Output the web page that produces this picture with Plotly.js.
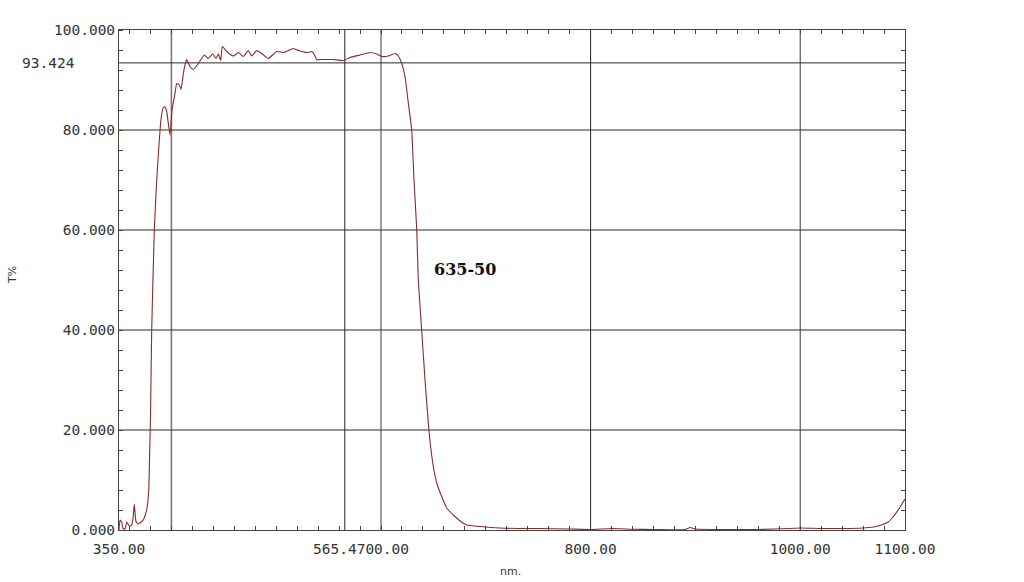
<!DOCTYPE html>
<html>
<head>
<meta charset="utf-8">
<script src="https://cdn.plot.ly/plotly-3.0.1.min.js"></script>
<style>html,body{margin:0;padding:0;background:#fff;}#chart{width:1024px;height:582px;}</style>
</head>
<body>
<div id="chart"></div>
<script>
// Wavelength (nm) and transmittance (%)
const wavelength = [350, 351, 352.5, 354, 356, 357.3, 359.8, 362.1, 363.6, 364.6, 366.2, 368.4, 373.2, 376.4, 378.4, 379.3, 380, 381.2, 383.7, 386, 387.5, 390, 392.3, 394, 395.5, 398.7, 400.6, 403.4, 405.1, 407.5, 409.2, 411.4, 413, 414.6, 417.7, 420.9, 425.7, 431.4, 435.2, 439.4, 442.6, 444.8, 447, 448.6, 452.8, 459.1, 463.8, 468.6, 473.4, 476.6, 481.4, 486.2, 492.5, 500.5, 506.8, 516.3, 522.7, 530.6, 533.9, 536.1, 538.6, 544.9, 554.5, 564, 570.4, 580, 589.5, 595.9, 600.7, 607, 613.4, 616.5, 619.8, 622.9, 626.1, 629.3, 631.5, 634.1, 635.6, 638.8, 642, 645.8, 649.9, 653.5, 657.9, 663, 670.6, 676, 681.8, 694.5, 713.5, 732.6, 750, 780, 800, 820, 840, 860, 890, 895, 900, 930, 960, 990, 1000, 1020, 1040, 1060, 1070, 1076, 1084, 1089, 1095, 1100];
const transmittance = [0, 2, 1.6, 0.2, 0.3, 1.6, 0.8, 1, 2.7, 5.2, 1.7, 1.2, 2, 4, 8, 16, 22, 40, 60, 70, 75, 82, 84.5, 84.6, 83.7, 79, 84, 87.3, 89.3, 89, 88.1, 91.3, 93, 94.1, 92.7, 92.1, 93.3, 95, 94.3, 95.2, 94.3, 95.2, 93.9, 96.7, 95.7, 94.8, 95.5, 94.7, 95.9, 94.8, 95.9, 95.3, 94.3, 95.7, 95.5, 96.3, 95.8, 95.5, 95.7, 95.2, 94.1, 94.1, 94.1, 93.9, 94.5, 95, 95.5, 95.2, 94.7, 94.8, 95.3, 94.8, 93.3, 90.7, 85.3, 80, 70, 60, 50, 40, 30, 19.7, 12.7, 9.2, 6.7, 4.3, 2.7, 1.7, 1, 0.7, 0.4, 0.3, 0.3, 0.2, 0.1, 0.3, 0.15, 0.1, 0.1, 0.5, 0.2, 0.1, 0.1, 0.3, 0.4, 0.3, 0.3, 0.4, 0.6, 0.9, 1.6, 2.7, 4.5, 6.2];

// Axis labels
const xTickVals = [350, 800, 1000, 1100];
const xTickText = ["350.00", "800.00", "1000.00", "1100.00"];
const xOverlapLabel = "565.4700.00";
const xOverlapAt = 565.47;
const yTickVals = [0, 20, 40, 60, 80, 100];
const yTickText = ["0.000", "20.000", "40.000", "60.000", "80.000", "100.000"];
const markerValue = 93.424;
const markerLabel = "93.424";

// Reference lines
const gridX = [400, 565.47, 600, 800, 1000];
const gridXColors = ["#7a7a7a", "#222222", "#3a3a3a", "#222222", "#333333"];
const gridXWidths = [1.6, 1, 1, 1, 1];
const gridY = [20, 40, 60, 80, 93.424];

const seriesName = "635-50";

const lineColor = "#8b2a2a";
const labelFont = {family: "DejaVu Sans Mono", size: 14.5, color: "#333333"};

const shapes = [];
gridX.forEach((v, i) => shapes.push({type: "line", xref: "x", yref: "paper", x0: v, x1: v, y0: 0, y1: 1, line: {color: gridXColors[i], width: gridXWidths[i]}, layer: "below"}));
gridY.forEach(v => shapes.push({type: "line", xref: "paper", yref: "y", x0: 0, x1: 1, y0: v, y1: v, line: {color: "#2a2a2a", width: 1}, layer: "below"}));

const annotations = [
  {xref: "x", yref: "paper", x: xOverlapAt, y: 0, xanchor: "left", yanchor: "top", xshift: -33.5, yshift: -9, text: xOverlapLabel, showarrow: false, font: labelFont},
  {xref: "paper", yref: "y", x: -42/786, y: markerValue, xanchor: "right", yanchor: "middle", text: markerLabel, showarrow: false, font: labelFont},
  {xref: "x", yref: "y", x: 648.6, y: 52.2, xanchor: "left", yanchor: "middle", text: "<b>" + seriesName + "</b>", showarrow: false, font: {family: "DejaVu Serif", size: 16, color: "#111"}},
  {xref: "paper", yref: "paper", x: -107/786, y: 0.51, xanchor: "center", yanchor: "middle", textangle: -90, text: "T%", showarrow: false, font: {family: "DejaVu Sans", size: 11, color: "#333"}},
  {xref: "paper", yref: "paper", x: (510-119)/786, y: -41/500, xanchor: "center", yanchor: "middle", text: "nm.", showarrow: false, font: {family: "DejaVu Sans", size: 11, color: "#333"}}
];

const data = [
  {x: wavelength, y: transmittance, type: "scatter", mode: "lines", line: {color: lineColor, width: 1.1, shape: "spline", smoothing: 0.4}, hoverinfo: "x+y", showlegend: false},
  {x: [350], y: [0], xaxis: "x2", yaxis: "y2", type: "scatter", mode: "markers", marker: {opacity: 0}, hoverinfo: "skip", showlegend: false}
];

const layout = {
  width: 1024, height: 582,
  margin: {l: 119, r: 119, t: 30, b: 52, pad: 0},
  paper_bgcolor: "#ffffff", plot_bgcolor: "#ffffff",
  showlegend: false,
  xaxis: {range: [350, 1100], tickmode: "array", tickvals: xTickVals, ticktext: xTickText, ticks: "", tickfont: labelFont, ticklabelstandoff: 6,
          showgrid: false, zeroline: false, showline: true, linecolor: "#444", linewidth: 1, mirror: true,
          minor: {ticks: "inside", tickmode: "linear", tick0: 0, dtick: 20, ticklen: 4, tickcolor: "#444", showgrid: false}},
  yaxis: {range: [0, 100], tickmode: "array", tickvals: yTickVals, ticktext: yTickText, ticks: "", tickfont: labelFont,
          showgrid: false, zeroline: false, showline: true, linecolor: "#444", linewidth: 1, mirror: true,
          minor: {ticks: "inside", tickmode: "linear", tick0: 0, dtick: 4, ticklen: 4, tickcolor: "#444", showgrid: false}},
  xaxis2: {range: [350, 1100], overlaying: "x", side: "top", tickmode: "linear", tick0: 0, dtick: 20, ticks: "inside", ticklen: 4, tickcolor: "#444",
           showticklabels: false, showgrid: false, zeroline: false, showline: false},
  yaxis2: {range: [0, 100], overlaying: "y", side: "right", tickmode: "linear", tick0: 0, dtick: 4, ticks: "inside", ticklen: 4, tickcolor: "#444",
           showticklabels: false, showgrid: false, zeroline: false, showline: false},
  shapes: shapes,
  annotations: annotations
};

Plotly.newPlot("chart", data, layout, {displayModeBar: false, staticPlot: true});
</script>
</body>
</html>
